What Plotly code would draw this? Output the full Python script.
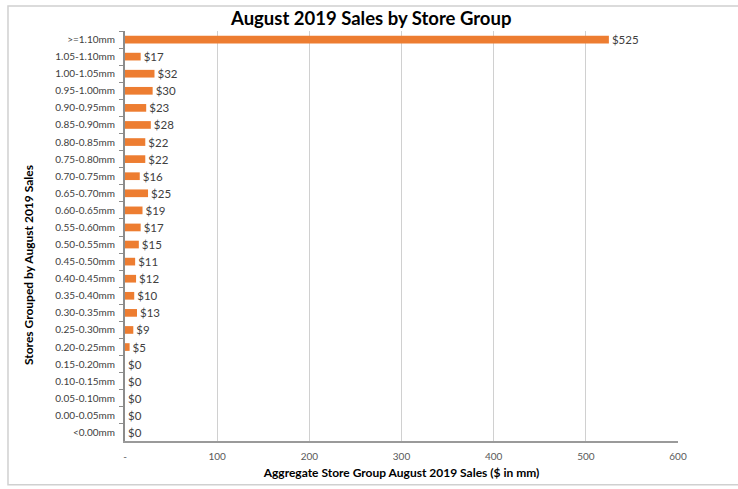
import plotly.graph_objects as go

# Store groups (by August 2019 sales band) and aggregate sales in $mm
groups = [
    ">=1.10mm", "1.05-1.10mm", "1.00-1.05mm", "0.95-1.00mm", "0.90-0.95mm",
    "0.85-0.90mm", "0.80-0.85mm", "0.75-0.80mm", "0.70-0.75mm", "0.65-0.70mm",
    "0.60-0.65mm", "0.55-0.60mm", "0.50-0.55mm", "0.45-0.50mm", "0.40-0.45mm",
    "0.35-0.40mm", "0.30-0.35mm", "0.25-0.30mm", "0.20-0.25mm", "0.15-0.20mm",
    "0.10-0.15mm", "0.05-0.10mm", "0.00-0.05mm", "<0.00mm",
]
sales = [525, 17, 32, 30, 23, 28, 22, 22, 16, 25, 19, 17, 15, 11, 12, 10, 13,
         9, 5, 0, 0, 0, 0, 0]

x_ticks = [0, 100, 200, 300, 400, 500, 600]
x_tick_labels = ["-", "100", "200", "300", "400", "500", "600"]

FONT = "Lato, Open Sans, sans-serif"
TEXT = "#404040"

fig = go.Figure(
    go.Bar(
        x=sales,
        y=groups,
        orientation="h",
        marker=dict(color="#ED7D31", line=dict(width=0)),
        text=[f"${v}" for v in sales],
        textposition="outside",
        constraintext="none",
        textfont=dict(family=FONT, size=11.5, color=TEXT),
        cliponaxis=False,
    )
)

fig.update_layout(
    width=738,
    height=489,
    margin=dict(l=125, r=60, t=31, b=48),
    paper_bgcolor="white",
    plot_bgcolor="white",
    bargap=0.55,
    showlegend=False,
    font=dict(family=FONT, color=TEXT),
    title=dict(
        text="<b>August 2019 Sales by Store Group</b>",
        x=0.503, xanchor="center", y=0.962, yanchor="middle",
        font=dict(family=FONT, size=18.5, color="#000000"),
    ),
)

fig.update_xaxes(
    range=[0, 600],
    tickvals=x_ticks,
    ticktext=x_tick_labels,
    tickfont=dict(family=FONT, size=10, color="#595959"),
    showgrid=True,
    gridcolor="#d0d0d0",
    gridwidth=1,
    showline=True,
    linecolor="#9a9a9a",
    linewidth=1.5,
    ticks="",
    ticklabelstandoff=5,
    automargin=False,
    zeroline=False,
    title=dict(
        text="<b>Aggregate Store Group August 2019 Sales ($ in mm)</b>",
        font=dict(family=FONT, size=12, color="#000000"),
        standoff=8,
    ),
)

fig.update_yaxes(
    categoryorder="array",
    categoryarray=groups,
    autorange="reversed",
    tickfont=dict(family=FONT, size=10, color=TEXT),
    showline=True,
    linecolor="#8c8c8c",
    linewidth=2,
    ticks="outside",
    tickson="boundaries",
    ticklen=4,
    tickcolor="#8c8c8c",
    showgrid=False,
    ticklabelstandoff=6,
    automargin=False,
)

# Vertical axis title
fig.add_annotation(
    text="<b>Stores Grouped by August 2019 Sales</b>",
    xref="paper", yref="paper",
    x=-0.192, y=0.43,
    textangle=-90,
    showarrow=False,
    font=dict(family=FONT, size=12, color="#000000"),
)

# Chart area border
fig.add_shape(
    type="rect", xref="paper", yref="paper",
    x0=-0.2116, x1=1.12, y0=-0.107, y1=1.061,
    line=dict(color="#d0d0d0", width=1.5),
    fillcolor="rgba(0,0,0,0)",
    layer="below",
)

fig.write_html("out.html")
